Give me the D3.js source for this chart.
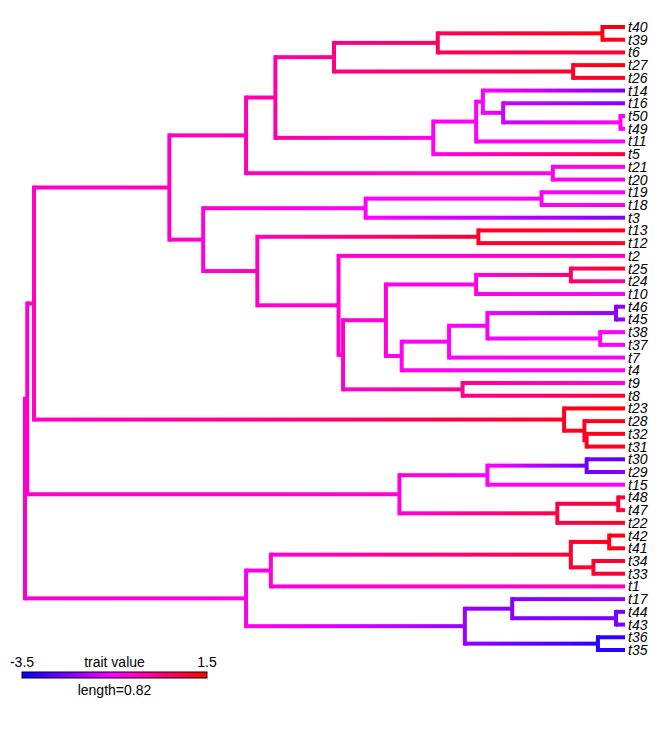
<!DOCTYPE html>
<html>
<head>
<meta charset="utf-8">
<script src="https://cdn.jsdelivr.net/npm/d3@7"></script>
<style>
  body { margin: 0; background: #fff; }
  text { font-family: "Liberation Sans", Arial, sans-serif; }
</style>
</head>
<body>
<div id="chart"></div>
<script>
// tree topology, built clade by clade; number after ':' is the node's absolute depth (tips default to treeHeight)
const cH = "(c4039:2.56,t6)H:1.83";
const cF = `(${cH},c2726:2.43)F:1.37`;
const cK = "(t16,c5049:2.64)K:2.12";
const cJ = `(t14,${cK})J:2.03`;
const cI = `(${cJ},t11)I:2.00`;
const cG = `(${cI},t5)G:1.81`;
const cE = `(${cF},${cG})E:1.11`;
const cC = `(${cE},c2021:2.34)C:0.98`;
const cT = "(c4645:2.62,c3837:2.55)T:2.05";
const cS = `(${cT},t7)S:1.88`;
const cR = `(${cS},t4)R:1.67`;
const cQ = "(c2524:2.42,t10)Q:2.00";
const cP = `(${cQ},${cR})P:1.60`;
const cO = `(${cP},c98:1.94)O:1.41`;
const cN = `(t2,${cO})N:1.39`;
const cM = `(c1312:2.01,${cN})M:1.03`;
const cD = `((c1918:2.29,t3)L:1.51,${cM})D:0.79`;
const cB = `(${cC},${cD})B:0.64`;
const c23 = "(t23,(t28,(t32,t31)V:2.49)U:2.48)c23:2.39";
const cA = `(${cB},${c23})A:0.04`;
const cW = "((c3029:2.49,t15)X:2.05,(c4847:2.63,t22)Y:2.36)W:1.66";
const cN1 = `(${cA},${cW})N1:0.01`;
const cZ = "(((c4241:2.59,c3433:2.52)CC:2.42,t1)AA:1.09,((t17,c4443:2.62)DD:2.16,c3635:2.54)BB:1.95)Z:0.98";
const newick = `(${cN1},${cZ})root:0;`;

const cherries = {
  c4039: ["t40", "t39"], c2726: ["t27", "t26"], c5049: ["t50", "t49"], c2021: ["t21", "t20"],
  c1918: ["t19", "t18"], c1312: ["t13", "t12"], c2524: ["t25", "t24"], c4645: ["t46", "t45"],
  c3837: ["t38", "t37"], c98: ["t9", "t8"], c3029: ["t30", "t29"], c4847: ["t48", "t47"],
  c4241: ["t42", "t41"], c3433: ["t34", "t33"], c4443: ["t44", "t43"], c3635: ["t36", "t35"]
};

const treeHeight = 2.66;

const tipNames = ["t40","t39","t6","t27","t26","t14","t16","t50","t49","t11","t5","t21","t20","t19","t18","t3","t13","t12","t2","t25",
  "t24","t10","t46","t45","t38","t37","t7","t4","t9","t8","t23","t28","t32","t31","t30","t29","t15","t48","t47","t22",
  "t42","t41","t34","t33","t1","t17","t44","t43","t36","t35"];
const tipTraits = [1.4,1.2,1.0,1.4,1.1,-2.3,-2.2,-1.0,-1.0,-0.9,1.0,-0.9,-0.7,-1.0,-0.8,-2.2,1.2,1.1,-0.5,1.0,
  -0.2,-1.0,-2.2,-2.0,-1.0,-1.0,-1.1,-0.8,-0.8,1.0,1.4,1.2,1.2,1.2,-2.6,-2.2,-1.0,1.0,0.8,1.1,
  1.3,1.2,1.0,1.0,-0.3,-2.1,-2.4,-2.3,-3.0,-3.2];

const nodeNames = ["root","N1","A","B","C","E","F","H","c4039","c2726","G","I","J","K","c5049","c2021","D","L","c1918","M",
  "c1312","N","O","P","Q","c2524","R","S","T","c4645","c3837","c98","c23","U","V","W","X","c3029","Y","c4847",
  "Z","AA","CC","c4241","c3433","BB","DD","c4443","c3635"];
const nodeTraits = [-0.5,-0.5,-0.45,-0.4,-0.3,-0.1,0.2,0.6,1.3,1.1,-0.9,-1.0,-1.0,-1.5,-1.0,-0.8,-0.6,-1.0,-0.9,-0.4,
  1.1,-0.5,-0.5,-0.7,-0.8,0.5,-0.9,-1.0,-1.1,-2.1,-1.0,0.1,1.2,1.2,1.2,-0.6,-1.0,-2.4,0.8,0.9,
  -0.8,-0.6,1.0,1.3,1.0,-2.0,-2.2,-2.3,-3.1];

const traitRange = [-3.5, 1.5];
const scaleBarLength = 0.82;

// --- parse newick ---
function parseNewick(s) {
  let i = 0;
  function node() {
    const n = { children: [] };
    if (s[i] === "(") {
      i++;
      n.children.push(node());
      while (s[i] === ",") { i++; n.children.push(node()); }
      i++; // ')'
    }
    let name = "";
    while (i < s.length && !",():;".includes(s[i])) name += s[i++];
    n.name = name;
    if (s[i] === ":") {
      i++;
      let num = "";
      while (i < s.length && !",();".includes(s[i])) num += s[i++];
      n.depth = +num;
    }
    return n;
  }
  return node();
}
const tree = parseNewick(newick);
(function expand(n) {
  if (cherries[n.name]) n.children = cherries[n.name].map(t => ({ name: t, children: [] }));
  n.children.forEach(expand);
})(tree);

const trait = {};
tipNames.forEach((t, i) => trait[t] = tipTraits[i]);
nodeNames.forEach((t, i) => trait[t] = nodeTraits[i]);

const width = 672, height = 735;
const x = d3.scaleLinear().domain([0, treeHeight]).range([25, 625]);
const y = d3.scalePoint().domain(tipNames).range([27, 650]);
const color = d3.scaleLinear().domain([-3.5, -1, 1.5]).range(["#0000ff", "#ff00ff", "#ff0000"]);

const root = d3.hierarchy(tree, d => d.children.length ? d.children : null);
root.eachAfter(d => {
  if (!d.children) { d.data.depth = treeHeight; d.py = y(d.data.name); }
  else d.py = (d.children[0].py + d.children[d.children.length - 1].py) / 2;
  d.px = x(d.data.depth);
});

const svg = d3.select("#chart").append("svg").attr("width", width).attr("height", height);
const defs = svg.append("defs");
const g = svg.append("g");
const lw = 4;

let gid = 0;
root.descendants().forEach(d => {
  if (!d.children) return;
  const pc = color(trait[d.data.name]);
  g.append("line")
    .attr("x1", d.px).attr("x2", d.px)
    .attr("y1", d.children[0].py - lw / 2).attr("y2", d.children[d.children.length - 1].py + lw / 2)
    .attr("stroke", pc).attr("stroke-width", lw);
  d.children.forEach(c => {
    const id = "g" + (gid++);
    const grad = defs.append("linearGradient").attr("id", id)
      .attr("gradientUnits", "userSpaceOnUse")
      .attr("x1", d.px).attr("x2", c.px).attr("y1", 0).attr("y2", 0);
    grad.append("stop").attr("offset", 0).attr("stop-color", pc);
    grad.append("stop").attr("offset", 0.5).attr("stop-color", color((trait[d.data.name] + trait[c.data.name]) / 2));
    grad.append("stop").attr("offset", 1).attr("stop-color", color(trait[c.data.name]));
    g.append("rect")
      .attr("x", d.px).attr("y", c.py - lw / 2)
      .attr("width", Math.max(c.px - d.px, 0.5)).attr("height", lw)
      .attr("fill", `url(#${id})`);
  });
});

// tip labels
g.selectAll("text.tip").data(root.leaves()).enter().append("text")
  .attr("class", "tip")
  .attr("x", d => d.px + 3).attr("y", d => d.py + 5)
  .attr("font-size", 14).attr("font-style", "italic")
  .text(d => d.data.name);

// legend
const lx0 = x(0) - 3, lx1 = lx0 + (x(scaleBarLength) - x(0));
const lg = defs.append("linearGradient").attr("id", "legend");
d3.range(0, 1.001, 0.05).forEach(t => {
  lg.append("stop").attr("offset", t).attr("stop-color", color(traitRange[0] + t * (traitRange[1] - traitRange[0])));
});
svg.append("rect").attr("x", lx0).attr("y", 672).attr("width", lx1 - lx0).attr("height", 6)
  .attr("fill", "url(#legend)").attr("stroke", "#000").attr("stroke-width", 1);
const mid = (lx0 + lx1) / 2;
svg.append("text").attr("x", lx0).attr("y", 667).attr("text-anchor", "middle").attr("font-size", 14).text(traitRange[0]);
svg.append("text").attr("x", lx1).attr("y", 667).attr("text-anchor", "middle").attr("font-size", 14).text(traitRange[1]);
svg.append("text").attr("x", mid).attr("y", 667).attr("text-anchor", "middle").attr("font-size", 14).text("trait value");
svg.append("text").attr("x", mid).attr("y", 695).attr("text-anchor", "middle").attr("font-size", 14).text("length=" + scaleBarLength);
</script>
</body>
</html>
